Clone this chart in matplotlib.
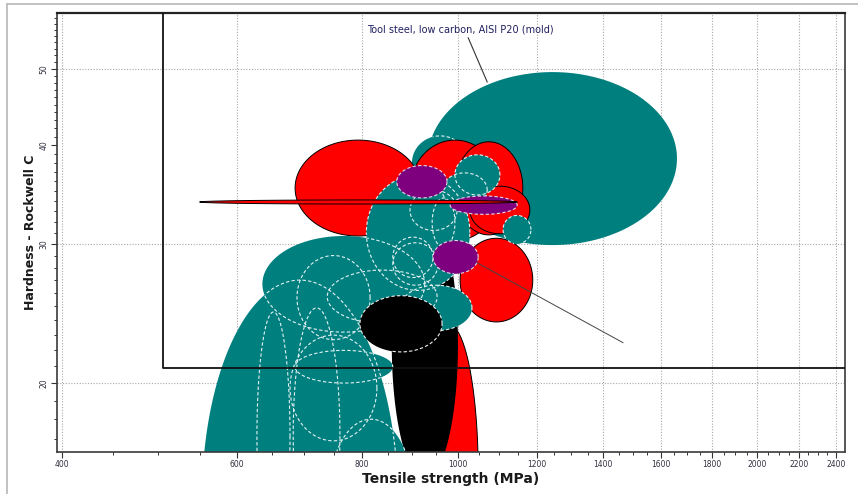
import numpy as np
import matplotlib
matplotlib.use("Agg")
import matplotlib.pyplot as plt
from matplotlib.lines import Line2D
from matplotlib.ticker import FixedLocator, NullFormatter

# ---------------- data (ranges of each material bubble, drawing order) ----------------
ts_lo  = [933, 899, 686, 895, 993, 1028, 1005, 916, 858, 553, 628, 683, 744, 678, 686, 636, 689, 739, 809, 860, 860, 895, 942, 964, 993, 1110, 875, 868, 944, 797, 982, 550]
ts_hi  = [1660, 1024, 918, 1102, 1162, 1181, 1189, 1048, 1000, 870, 678, 761, 899, 829, 860, 926, 816, 953, 1028, 944, 955, 998, 993, 1070, 1102, 1184, 1033, 975, 1048, 964, 1147, 1147]
hrc_lo = [29.9, 35.1, 30.7, 30.3, 30.8, 30.9, 23.9, 10.0, 15.1, 7.5, 11.9, 11.9, 11.9, 16.9, 20.0, 23.2, 22.7, 23.8, 26.2, 27.2, 26.6, 31.2, 29.7, 33.4, 34.6, 30.0, 23.3, 34.3, 27.5, 21.9, 32.7, 33.7]
hrc_hi = [49.5, 41.1, 40.6, 40.6, 40.4, 35.5, 30.5, 23.7, 33.1, 27.0, 24.6, 24.9, 18.0, 23.0, 22.0, 30.7, 29.0, 27.8, 36.7, 30.6, 30.1, 35.1, 34.3, 36.9, 38.9, 32.6, 26.6, 37.7, 30.3, 25.8, 34.5, 34.1]
family = ["teal", "teal", "red", "red", "red", "red", "red", "red", "black", "teal", "teal", "teal", "teal", "teal", "teal", "teal", "teal", "teal", "teal", "teal", "teal", "teal", "teal", "teal", "teal", "teal", "teal", "purple", "purple", "black", "purple", "red"]
outlined = [False, True, True, True, True, True, True, True, False, True, True, True, True, True, True, True, True, True, True, True, True, True, True, True, True, True, True, True, True, True, True, True]

x_ticks = [400, 600, 800, 1000, 1200, 1400, 1600, 1800, 2000, 2200, 2400]
y_ticks = [20, 30, 40, 50]
y_grid = [20, 30, 50]

box_ts_min = 505
box_hrc_min = 20.9

label_text = "Tool steel, low carbon, AISI P20 (mold)"
label_pos = (810, 56.0)
leader1 = ([1024, 1070], [54.7, 48.1])
leader2 = ([1045, 1465], [28.4, 22.5])

x_label = "Tensile strength (MPa)"
y_label = "Hardness - Rockwell C"

# ---------------- styling ----------------
fill_colors = {"teal": "#007f7f", "red": "#ff0000", "purple": "#7f007f", "black": "#000000"}
dash_colors = {"teal": "#e4f2f2", "purple": "#e6d6e6", "black": "#f2f2f2"}

fig = plt.figure(figsize=(8.58, 4.94), dpi=100)
fig.patch.set_facecolor("white")
ax = fig.add_axes([57 / 858, 42 / 494, (845 - 57) / 858, (452 - 13) / 494])
ax.set_xscale("log")
ax.set_yscale("log")
ax.set_xlim(395.4, 2449)
ax.set_ylim(16.36, 58.8)

# grid
for xv in x_ticks:
    ax.axvline(xv, color="#a8a8a8", linestyle=(0, (1, 1.5)), linewidth=0.8, zorder=0)
for yv in y_grid:
    ax.axhline(yv, color="#a8a8a8", linestyle=(0, (1, 1.5)), linewidth=0.8, zorder=0)

# bubble geometry in log-log space
n = len(ts_lo)
cx = [(np.log10(a) + np.log10(b)) / 2 for a, b in zip(ts_lo, ts_hi)]
rx = [(np.log10(b) - np.log10(a)) / 2 for a, b in zip(ts_lo, ts_hi)]
cy = [(np.log10(c) + np.log10(d)) / 2 for c, d in zip(hrc_lo, hrc_hi)]
ry = [(np.log10(d) - np.log10(c)) / 2 for c, d in zip(hrc_lo, hrc_hi)]
t = np.linspace(0, 2 * np.pi, 400)
fill_z = [2 + i * 0.01 for i in range(n)]

# outline z: on top of the last fill of the same contiguous family run
outline_z = [0.0] * n
i = 0
while i < n:
    j = i
    while j + 1 < n and family[j + 1] == family[i]:
        j += 1
    for k in range(i, j + 1):
        outline_z[k] = fill_z[j] + 0.005
    i = j + 1

for i in range(n):
    fam = family[i]
    lx = cx[i] + rx[i] * np.cos(t)
    ly = cy[i] + ry[i] * np.sin(t)
    xs, ys = 10 ** lx, 10 ** ly
    if fam == "red":
        ax.fill(xs, ys, facecolor=fill_colors[fam],
                edgecolor="#000000" if outlined[i] else "none",
                linewidth=0.7, zorder=fill_z[i])
        continue
    ax.fill(xs, ys, facecolor=fill_colors[fam], edgecolor="none", zorder=fill_z[i])
    if not outlined[i]:
        continue
    # dashed light outline only where it lies over other bubbles (not on background)
    mask = np.zeros_like(lx, dtype=bool)
    for k in range(n):
        if k == i or fill_z[k] > outline_z[i]:
            continue
        mask |= ((lx - cx[k]) / rx[k]) ** 2 + ((ly - cy[k]) / ry[k]) ** 2 < 0.995
    xo = np.where(mask, xs, np.nan)
    yo = np.where(mask, ys, np.nan)
    ax.plot(xo, yo, color=dash_colors[fam], linestyle=(0, (3, 2)), linewidth=0.8,
            zorder=outline_z[i])

# selection box
ax.plot([box_ts_min, box_ts_min, 5000], [200, box_hrc_min, box_hrc_min],
        color="#111111", linewidth=1.3, zorder=5)

# annotations
ax.plot(leader1[0], leader1[1], color="#333333", linewidth=0.8, zorder=6)
ax.plot(leader2[0], leader2[1], color="#444444", linewidth=0.7, zorder=6)
ax.text(label_pos[0], label_pos[1], label_text, fontsize=7, color="#202060",
        va="center", ha="left", zorder=7)

# ticks
ax.xaxis.set_major_locator(FixedLocator(x_ticks))
ax.set_xticklabels([str(v) for v in x_ticks])
x_minor = [v for v in range(450, 2450, 50) if v not in x_ticks]
ax.xaxis.set_minor_locator(FixedLocator(x_minor))
ax.xaxis.set_minor_formatter(NullFormatter())
ax.yaxis.set_major_locator(FixedLocator(y_ticks))
ax.set_yticklabels([str(v) for v in y_ticks], rotation=90, va="center")
y_minor = [v for v in range(17, 59) if v not in y_ticks]
ax.yaxis.set_minor_locator(FixedLocator(y_minor))
ax.yaxis.set_minor_formatter(NullFormatter())
ax.tick_params(axis="both", which="major", labelsize=5.5, labelcolor="#303040",
               color="#333333", length=4, width=0.8, direction="out", pad=2)
ax.tick_params(axis="both", which="minor", color="#333333", length=2.5, width=0.7,
               direction="out")

for s in ax.spines.values():
    s.set_color("#3a3a3a")
    s.set_linewidth(1.2)
ax.spines["top"].set_linewidth(1.6)
ax.spines["top"].set_color("#222222")

ax.set_xlabel(x_label, fontsize=10, fontweight="bold", color="#1a1a1a", labelpad=2)
ax.set_ylabel(y_label, fontsize=9, fontweight="bold", color="#1a1a1a", labelpad=2)

# outer light frame
fig.add_artist(Line2D([7 / 858, 7 / 858], [0, 1 - 4 / 494], color="#b8b8b8", linewidth=1.2))
fig.add_artist(Line2D([7 / 858, 1], [1 - 4 / 494, 1 - 4 / 494], color="#b8b8b8", linewidth=1.2))

fig.savefig("out.png", dpi=100)
